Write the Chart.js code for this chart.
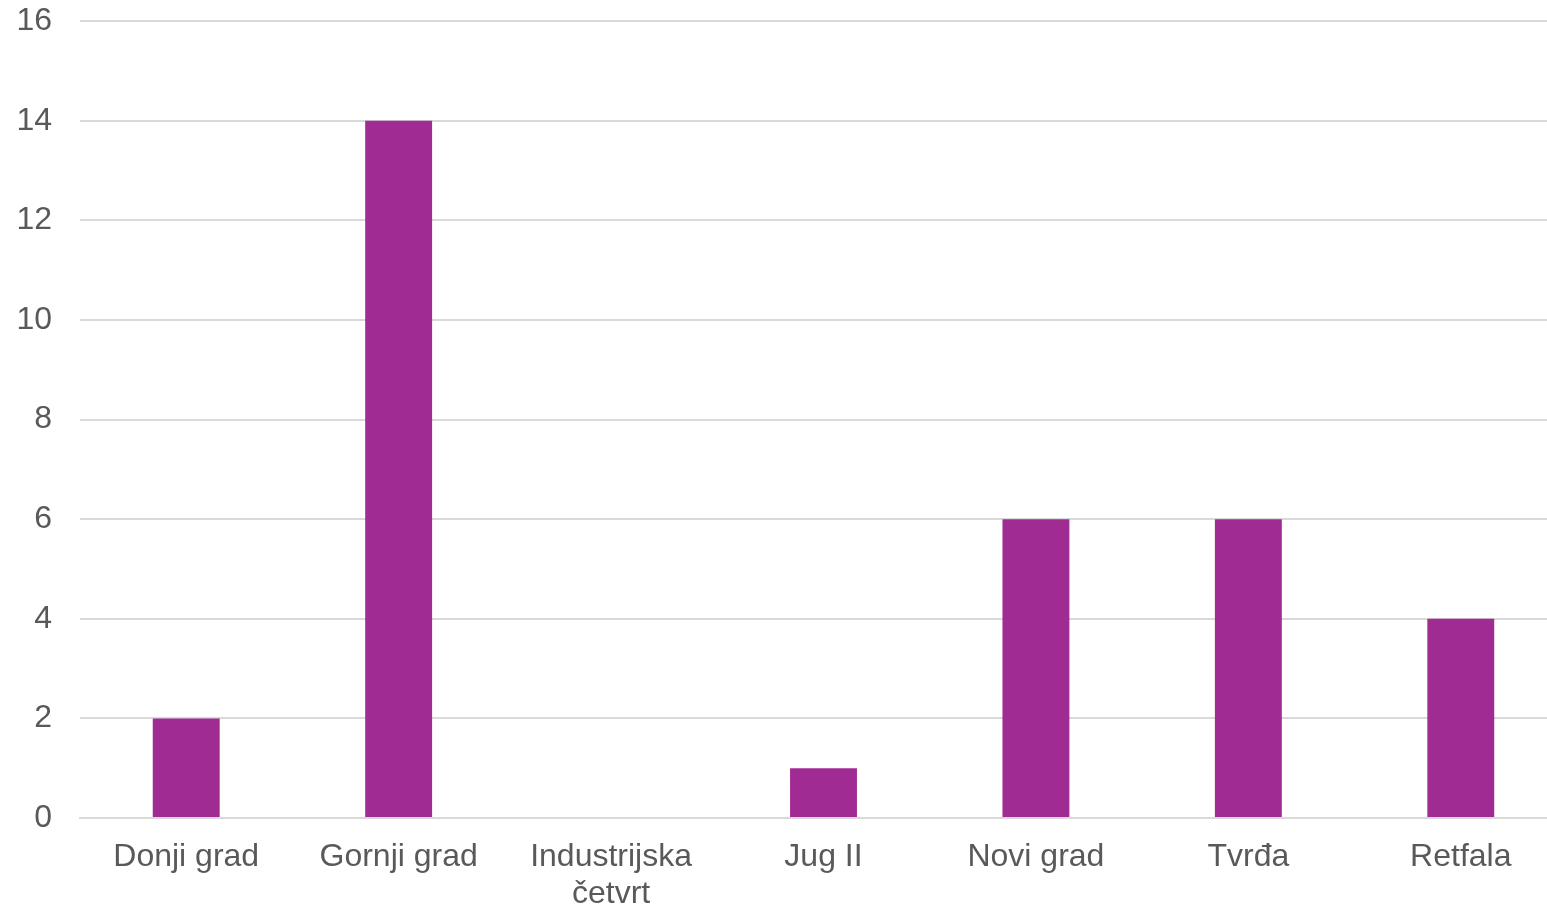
<!DOCTYPE html>
<html>
<head>
<meta charset="utf-8">
<script src="https://cdn.jsdelivr.net/npm/chart.js@4/dist/chart.umd.min.js"></script>
<style>
  html, body { margin: 0; padding: 0; overflow: hidden; background: #ffffff; }
  #wrap { position: absolute; left: 0; top: -26px; width: 1567px; height: 966px; }
</style>
</head>
<body>
<div id="wrap"><canvas id="c"></canvas></div>
<script>
const categories = ["Donji grad", "Gornji grad", ["Industrijska", "četvrt"], "Jug II", "Novi grad", "Tvrđa", "Retfala"];
const values = [2, 14, 0, 1, 6, 6, 4];
const yTicks = [0, 2, 4, 6, 8, 10, 12, 14, 16];

const textColor = "#595959";
const gridColor = "#d9d9d9";
const barColor = "#a02b93";
const fontFamily = "'Liberation Sans', Arial, sans-serif";

new Chart(document.getElementById("c"), {
  type: "bar",
  data: {
    labels: categories,
    datasets: [{
      data: values,
      backgroundColor: barColor,
      borderWidth: 0,
      categoryPercentage: 1,
      barPercentage: 0.315
    }]
  },
  options: {
    responsive: true,
    maintainAspectRatio: false,
    animation: false,
    layout: { padding: { top: 0, right: 0, bottom: 0, left: 0 } },
    plugins: { legend: { display: false }, tooltip: { enabled: false } },
    scales: {
      x: {
        grid: { display: false, drawTicks: false },
        border: { display: true, color: gridColor, width: 2 },
        ticks: {
          color: textColor,
          font: { family: fontFamily, size: 32, lineHeight: 1.15 },
          padding: 21,
          maxRotation: 0,
          autoSkip: false
        },
        afterFit: (s) => { s.height = 122; }
      },
      y: {
        min: yTicks[0],
        max: yTicks[yTicks.length - 1],
        afterBuildTicks: (s) => { s.ticks = yTicks.map(v => ({ value: v })); },
        grid: { color: gridColor, lineWidth: 2, drawTicks: false },
        border: { display: false },
        ticks: {
          color: textColor,
          font: { family: fontFamily, size: 32 },
          padding: 28
        },
        afterFit: (s) => { s.width = 80; }
      }
    }
  }
});
</script>
</body>
</html>
